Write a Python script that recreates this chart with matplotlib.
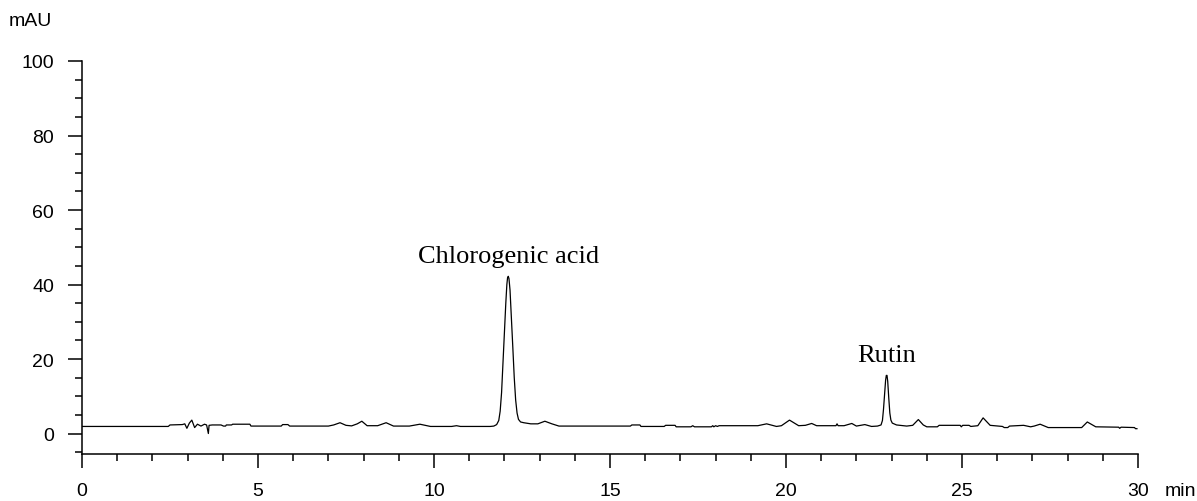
import matplotlib.pyplot as plt
from matplotlib.ticker import MultipleLocator

plt.rcParams['font.family'] = ['Liberation Sans', 'DejaVu Sans']

# retention time (min) and absorbance (mAU)
time = [0.0, 2.45, 2.5, 2.85, 2.92, 2.98, 3.05, 3.12, 3.2, 3.28, 3.38, 3.48, 3.54,
        3.57, 3.59, 3.61, 3.70, 3.95, 4.02, 4.08, 4.10, 4.25, 4.28, 4.77, 4.80,
        5.66, 5.70, 5.85, 5.90, 7.0, 7.15, 7.33, 7.5, 7.66, 7.82, 7.95, 8.1, 8.4,
        8.64, 8.85, 9.3, 9.6, 9.9, 10.5, 10.64, 10.75, 11.60,
        11.70, 11.78, 11.84, 11.88, 11.92, 11.96, 12.00, 12.04, 12.07, 12.09,
        12.11, 12.13, 12.16, 12.20, 12.24, 12.28, 12.32, 12.36, 12.40, 12.46,
        12.55, 12.75, 12.95, 13.15, 13.35, 13.55,
        15.58, 15.62, 15.85, 15.88, 16.54, 16.58, 16.85, 16.88, 17.30, 17.35,
        17.40, 17.88, 17.92, 17.95, 18.0, 18.05, 18.10, 19.2, 19.45, 19.73,
        19.87, 20.1, 20.36, 20.55, 20.73, 20.87, 21.42, 21.45, 21.48, 21.65,
        21.87, 22.0, 22.24, 22.43,
        22.60, 22.70, 22.74, 22.77, 22.80, 22.83, 22.85, 22.87, 22.89, 22.92,
        22.95, 22.98, 23.02,
        23.14, 23.43, 23.6, 23.76, 23.9, 24.0, 24.3, 24.35, 24.95, 24.98, 25.02,
        25.2, 25.25, 25.45, 25.6, 25.8, 26.15, 26.2, 26.3, 26.35, 26.75, 26.95,
        27.05, 27.22, 27.45, 28.4, 28.56, 28.8, 29.45, 29.48, 29.52, 29.90,
        29.93, 29.97]
mau = [1.9, 1.9, 2.3, 2.4, 2.6, 1.4, 2.8, 3.6, 1.6, 2.5, 2.0, 2.5, 2.3,
       1.0, 0.0, 2.2, 2.3, 2.3, 2.0, 2.0, 2.3, 2.3, 2.5, 2.5, 2.0,
       2.0, 2.4, 2.4, 2.0, 2.0, 2.3, 2.9, 2.2, 2.05, 2.6, 3.3, 2.1, 2.1,
       2.9, 2.0, 2.0, 2.5, 1.9, 1.9, 2.1, 1.9, 1.9,
       2.0, 2.4, 3.5, 6.0, 11.0, 19.0, 27.0, 35.0, 40.0, 41.8,
       42.2, 41.6, 38.5, 31.0, 23.0, 15.0, 9.0, 5.5, 3.8, 3.1,
       2.9, 2.6, 2.6, 3.3, 2.6, 2.0,
       2.0, 2.3, 2.3, 1.9, 1.9, 2.2, 2.2, 1.8, 1.8, 2.1,
       1.8, 1.8, 2.1, 1.8, 2.1, 1.9, 2.1, 2.1, 2.6, 1.9,
       2.1, 3.6, 2.1, 2.2, 2.7, 2.1, 2.1, 2.6, 2.1, 2.1,
       2.7, 2.0, 2.4, 1.9,
       2.0, 2.3, 3.5, 6.5, 10.5, 14.3, 15.6, 15.6, 14.0, 9.5,
       5.5, 3.6, 2.8,
       2.3, 2.0, 2.2, 3.75, 2.3, 1.8, 1.8, 2.2, 2.2, 1.8, 2.2,
       2.2, 1.9, 2.1, 4.2, 2.2, 1.9, 1.6, 1.6, 2.0, 2.2, 1.8,
       2.0, 2.5, 1.6, 1.6, 3.1, 1.8, 1.7, 1.4, 1.7, 1.6,
       1.3, 1.3]

peak_names = ['Chlorogenic acid', 'Rutin']
peak_times = [12.11, 22.86]
peak_heights = [42.2, 15.8]

fig = plt.figure(figsize=(11.97, 5.02), dpi=100)
ax = fig.add_axes([0.0685, 0.0936, 0.8822, 0.7829])

ax.plot(time, mau, color='black', lw=0.9)

ax.set_xlim(0, 30)
ax.set_ylim(-5.5, 100)
ax.xaxis.set_major_locator(MultipleLocator(5))
ax.xaxis.set_minor_locator(MultipleLocator(1))
ax.yaxis.set_major_locator(MultipleLocator(20))
ax.yaxis.set_minor_locator(MultipleLocator(5))

for s in ['top', 'right']:
    ax.spines[s].set_visible(False)
for s in ['left', 'bottom']:
    ax.spines[s].set_linewidth(1.1)

ax.tick_params(which='major', direction='out', length=10, width=1.1,
               labelsize=14, pad=10)
ax.tick_params(which='minor', direction='out', length=5, width=1.1)

for name, t, h in zip(peak_names, peak_times, peak_heights):
    ax.text(t, h + 5.4, name, ha='center', va='center',
            family='Liberation Serif', fontsize=19)

fig.text(30 / 1197, 1 - 22 / 502, 'mAU', ha='center', va='center', fontsize=14)
fig.text(1180 / 1197, 1 - 492 / 502, 'min', ha='center', va='center', fontsize=14)

fig.savefig('out.png', dpi=100)
